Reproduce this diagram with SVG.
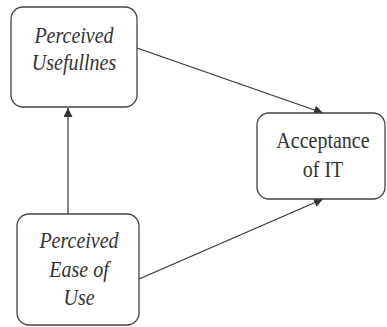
<svg xmlns="http://www.w3.org/2000/svg" width="387" height="327" viewBox="0 0 387 327">
<defs>
<marker id="ah" viewBox="0 0 10 10" refX="10" refY="5" markerWidth="10" markerHeight="9" markerUnits="userSpaceOnUse" orient="auto">
<path d="M0,0 L10,5 L0,10 z" fill="#333"/>
</marker>
<style>
.box{fill:#fff;stroke:#444;stroke-width:1.3}
.t{font-family:"Liberation Serif","Times New Roman",serif;font-size:20px;fill:#333;text-anchor:middle}
.i{font-style:italic}
.c{stroke:#333;stroke-width:1.2;fill:none;marker-end:url(#ah)}
</style>
</defs>
<rect width="387" height="327" fill="#fff"/>
<g id="connectors">
<line class="c" x1="68" y1="214" x2="68" y2="108"/>
<line class="c" x1="137" y1="48" x2="323" y2="113"/>
<line class="c" x1="139" y1="279" x2="323" y2="199"/>
</g>
<g id="pu">
<rect class="box" x="11" y="7" width="126" height="100" rx="12"/>
<text class="t i" x="74" y="43" transform="translate(0,-6.45) scale(1,1.15)">Perceived</text>
<text class="t i" x="74" y="70" transform="translate(0,-10.5) scale(1,1.15)">Usefullnes</text>
</g>
<g id="acc">
<rect class="box" x="257" y="113" width="128" height="86" rx="12"/>
<text class="t" x="323" y="148" transform="translate(0,-22.2) scale(1,1.15)">Acceptance</text>
<text class="t" x="323" y="177" transform="translate(0,-26.55) scale(1,1.15)">of IT</text>
</g>
<g id="peou">
<rect class="box" x="17" y="214" width="122" height="111" rx="12"/>
<text class="t i" x="79" y="248" transform="translate(0,-37.2) scale(1,1.15)">Perceived</text>
<text class="t i" x="79" y="277" transform="translate(0,-41.55) scale(1,1.15)">Ease of</text>
<text class="t i" x="79" y="305" transform="translate(0,-45.75) scale(1,1.15)">Use</text>
</g>
</svg>
